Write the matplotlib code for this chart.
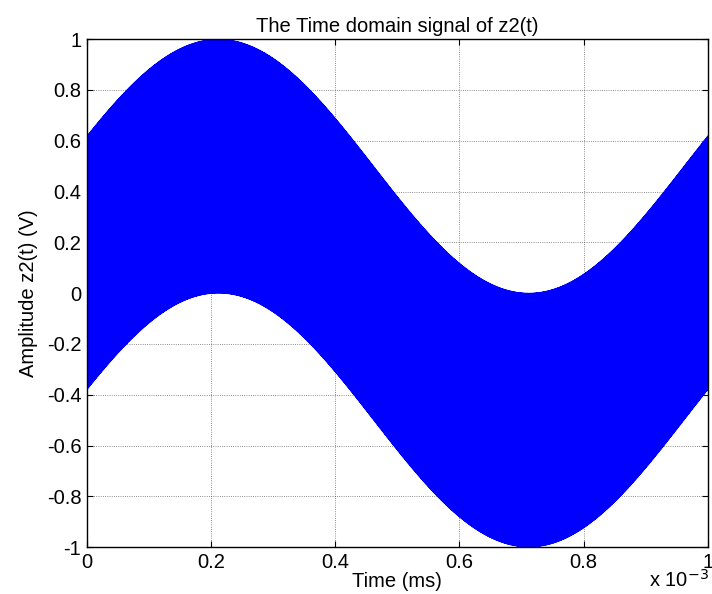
import numpy as np
import matplotlib
matplotlib.use("Agg")
import matplotlib.pyplot as plt

# signal parameters
t_end = 1e-3            # seconds
n_samples = 100001
f_msg = 1000.0          # Hz, slow component (one period across the plot)
f_carrier = 1e6         # Hz, fast component (fills the band)
amp_msg = 0.5
amp_carrier = 0.5
phase_msg = 0.24        # rad, puts the envelope peak near 0.21 ms

x_ticks = [0, 0.2e-3, 0.4e-3, 0.6e-3, 0.8e-3, 1e-3]
x_tick_labels = ['0', '0.2', '0.4', '0.6', '0.8', '1']
y_ticks = [-1, -0.8, -0.6, -0.4, -0.2, 0, 0.2, 0.4, 0.6, 0.8, 1]
y_tick_labels = ['-1', '-0.8', '-0.6', '-0.4', '-0.2', '0', '0.2', '0.4', '0.6', '0.8', '1']

t = np.linspace(0, t_end, n_samples)
z2 = amp_msg * np.sin(2 * np.pi * f_msg * t + phase_msg) + amp_carrier * np.cos(2 * np.pi * f_carrier * t)

plt.rcParams['font.family'] = ['Liberation Sans', 'DejaVu Sans']
fs = 14.5

fig = plt.figure(figsize=(7.12, 5.94), dpi=100)
ax = fig.add_axes([0.122, 0.079, 0.872, 0.855])
ax.plot(t, z2, color=(0, 0, 1), linewidth=0.6)

ax.set_xlim(0, t_end)
ax.set_ylim(-1, 1)
ax.set_xticks(x_ticks)
ax.set_xticklabels(x_tick_labels)
ax.set_yticks(y_ticks)
ax.set_yticklabels(y_tick_labels)
ax.tick_params(direction='in', length=4, width=0.8, top=True, right=True, pad=4, labelsize=fs)
ax.grid(True, linestyle=':', color='black', linewidth=0.6, alpha=0.6)
for s in ax.spines.values():
    s.set_linewidth(1.0)

ax.set_title('The Time domain signal of z2(t)', fontsize=fs, pad=5)
ax.set_xlabel('Time (ms)', fontsize=fs, labelpad=0)
ax.set_ylabel('Amplitude z2(t) (V)', fontsize=fs, labelpad=6)
fig.text(0.995, 0.006, 'x 10$^{-3}$', ha='right', va='bottom', fontsize=fs)

fig.savefig('out.png', dpi=100)
